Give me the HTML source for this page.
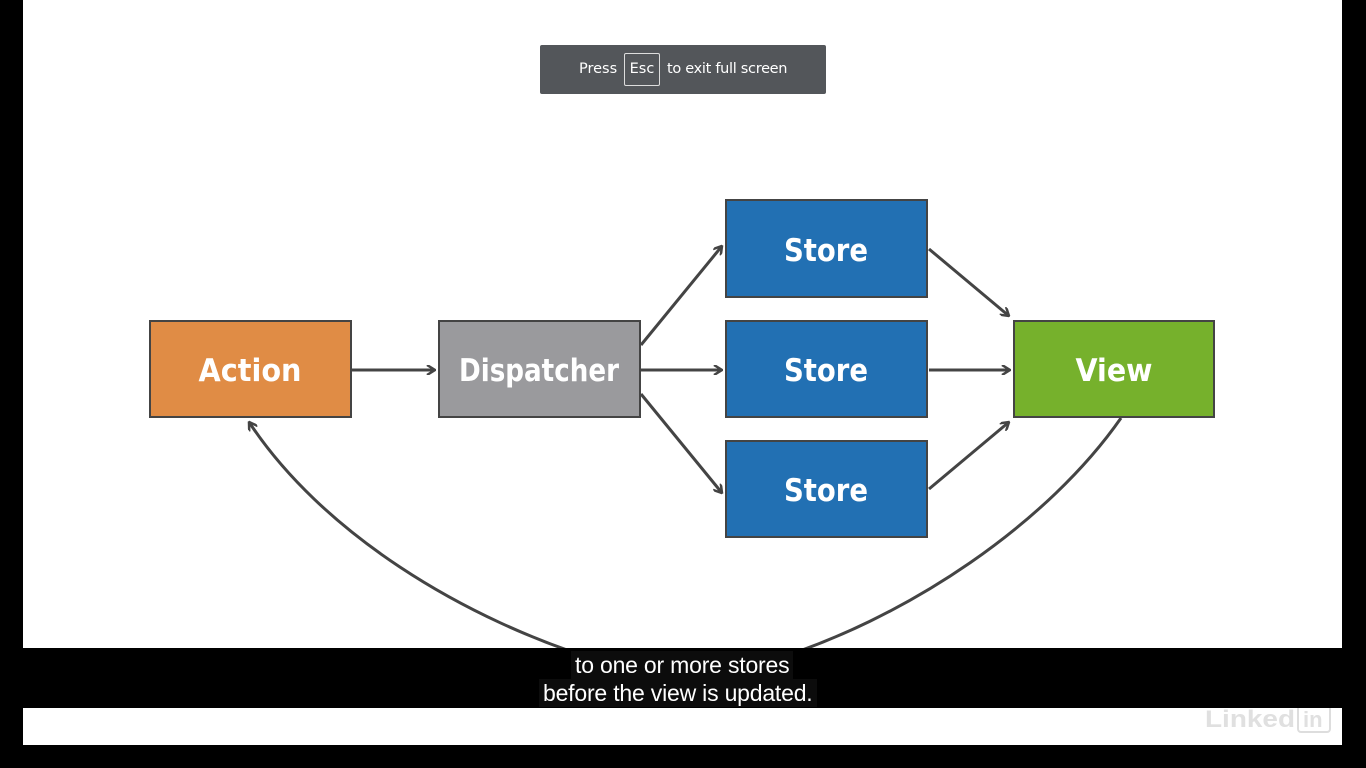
<!DOCTYPE html>
<html><head><meta charset="utf-8"><style>
body{margin:0;width:1366px;height:768px;background:#000;overflow:hidden;position:relative;font-family:"Liberation Sans",sans-serif}
#w{position:absolute;left:23px;top:0;width:1319px;height:745px;background:#fff}
svg{position:absolute;left:0;top:0}
#bar{position:absolute;left:0;top:648px;width:1366px;height:60px;background:#000}
.cap{position:absolute;color:#fff;font-size:23px;background:#0c0c0c;line-height:28px;padding:0 4px;letter-spacing:-0.2px}
#esc{position:absolute;left:540px;top:45px;width:286px;height:49px;background:#53565a;border-radius:2px;color:#fff;font-family:"DejaVu Sans",sans-serif;font-size:14.5px}
</style></head><body>
<div id="w"></div>
<svg width="1366" height="768">
<defs><marker id="a" markerWidth="10" markerHeight="10" refX="9" refY="5" orient="auto" markerUnits="userSpaceOnUse"><path d="M1,0 L9,5 L1,10" fill="none" stroke="#444" stroke-width="2.5"/></marker></defs>
<g stroke="#444" stroke-width="3" fill="none" marker-end="url(#a)">
<line x1="352" y1="370" x2="435" y2="370"/>
<line x1="641" y1="345" x2="722" y2="246"/>
<line x1="641" y1="370" x2="722" y2="370"/>
<line x1="641" y1="394" x2="722" y2="493"/>
<line x1="929" y1="249" x2="1009" y2="316"/>
<line x1="929" y1="370" x2="1010" y2="370"/>
<line x1="929" y1="489" x2="1009" y2="422"/>
<path d="M610 664 C460 620 320 530 249 422"/>
</g>
<path d="M760 664 C910 620 1050 520 1121 418" stroke="#444" stroke-width="3" fill="none"/>
<g stroke="#444" stroke-width="2">
<rect x="150" y="321" width="201" height="96" fill="#e08c45"/>
<rect x="439" y="321" width="201" height="96" fill="#9a9a9d"/>
<rect x="726" y="200" width="201" height="97" fill="#2270b3"/>
<rect x="726" y="321" width="201" height="96" fill="#2270b3"/>
<rect x="726" y="441" width="201" height="96" fill="#2270b3"/>
<rect x="1014" y="321" width="200" height="96" fill="#76b12c"/>
</g>
<g fill="#fff" font-family="DejaVu Sans, sans-serif" font-size="31" font-weight="bold" text-anchor="middle">
<text x="250" y="381" textLength="103" lengthAdjust="spacingAndGlyphs">Action</text>
<text x="539" y="381" textLength="160" lengthAdjust="spacingAndGlyphs">Dispatcher</text>
<text x="826" y="261" textLength="84" lengthAdjust="spacingAndGlyphs">Store</text>
<text x="826" y="381" textLength="84" lengthAdjust="spacingAndGlyphs">Store</text>
<text x="826" y="501" textLength="84" lengthAdjust="spacingAndGlyphs">Store</text>
<text x="1114" y="381" textLength="77" lengthAdjust="spacingAndGlyphs">View</text>
</g>
<text x="1205" y="727" fill="#e0e0e0" font-size="24" font-weight="bold" font-family="Liberation Sans,sans-serif" textLength="90" lengthAdjust="spacingAndGlyphs">Linked</text>
<rect x="1298" y="706" width="32" height="26" rx="3" fill="none" stroke="#ddd" stroke-width="2"/>
<text x="1303" y="727" fill="#e0e0e0" font-size="22" font-weight="bold" font-family="Liberation Sans,sans-serif">in</text>
</svg>
<div id="bar"></div>
<div class="cap" style="left:571px;top:651px">to one or more stores</div>
<div class="cap" style="left:539px;top:679px">before the view is updated.</div>
<div id="esc"><span style="position:absolute;left:39px;top:16px">Press</span><span style="position:absolute;left:84px;top:8px;width:34px;height:31px;border:1px solid #ddd;border-radius:2px;text-align:center;line-height:31px">Esc</span><span style="position:absolute;left:127px;top:16px;letter-spacing:-0.3px">to exit full screen</span></div>
</body></html>
